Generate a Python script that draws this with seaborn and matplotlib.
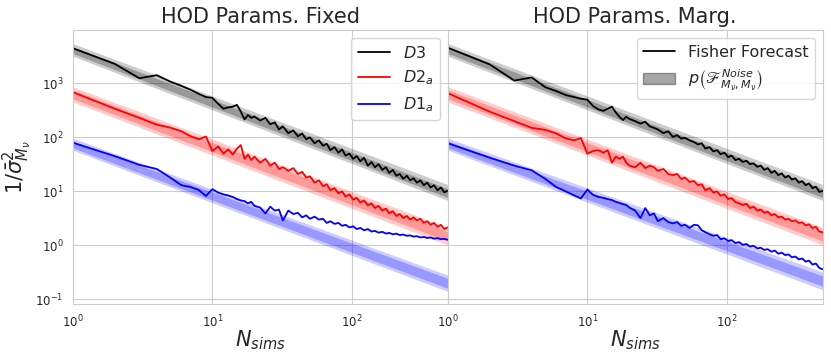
import matplotlib
matplotlib.use("Agg")
import matplotlib.pyplot as plt
import matplotlib.patches as mpatches
import seaborn as sns

sns.set_style("whitegrid")

# ---------------------------------------------------------------------
# data (N_sims grid shared by every curve)
# ---------------------------------------------------------------------
n_sims = [1, 2, 3, 4, 5, 6, 7, 8, 9, 10, 11, 12, 13, 14, 15, 16, 17, 18, 19, 20,
          22, 24, 26, 28, 30, 32, 35, 38, 41, 44, 47, 50, 54, 58, 62, 66, 70, 75,
          80, 85, 90, 96, 102, 108, 115, 122, 130, 138, 146, 155, 165, 175, 185,
          196, 208, 220, 233, 247, 261, 276, 292, 309, 327, 346, 366, 387, 410,
          434, 459, 485]

# HOD params fixed
d3_fixed = [4500, 2300, 1250, 1420, 1080, 900, 760, 640, 560, 540, 420, 340, 360,
            370, 400, 300, 215, 260, 230, 245, 205, 230, 175, 190, 140, 160, 120,
            135, 105, 118, 92, 100, 78, 88, 70, 76, 58, 66, 52, 60, 46, 50, 40, 45,
            36, 42, 30, 35, 28, 32, 25, 28, 22, 25, 19.5, 21, 17, 19.5, 16, 17.5,
            14.5, 16, 13, 14.5, 11.8, 13, 10.5, 11.8, 9.6, 10.3]
d2a_fixed = [690, 340, 230, 172, 152, 130, 105, 92, 104, 56, 68, 50, 60, 48, 62,
             72, 40, 48, 38, 44, 34, 40, 30, 34, 26, 28, 24, 27, 21, 23, 18, 19,
             14.5, 16, 12.5, 13.5, 10.5, 11.5, 9.2, 10, 8.0, 8.8, 7.0, 7.6, 6.2,
             6.8, 5.5, 6.0, 4.9, 5.4, 4.4, 4.8, 3.9, 4.3, 3.5, 3.8, 3.2, 3.5, 3.0,
             3.3, 2.9, 3.1, 2.6, 2.8, 2.4, 2.6, 2.2, 2.4, 2.0, 2.15]
d1a_fixed = [80, 45, 31, 26, 18, 13, 12, 10.6, 8.2, 11, 9.5, 8.8, 8.4, 7.9, 7.2,
             6.8, 6.6, 6.0, 6.4, 5.4, 5.0, 3.9, 5.2, 4.4, 4.6, 2.9, 4.4, 3.8, 4.0,
             3.3, 3.6, 3.1, 3.4, 3.0, 3.1, 2.6, 2.8, 2.5, 2.6, 2.3, 2.4, 2.15, 2.25,
             2.0, 2.1, 1.9, 2.0, 1.8, 1.85, 1.72, 1.78, 1.65, 1.7, 1.6, 1.65, 1.55,
             1.58, 1.5, 1.53, 1.45, 1.48, 1.4, 1.43, 1.37, 1.4, 1.33, 1.36, 1.3,
             1.32, 1.27]

# HOD params marginalised
d3_marg = [4600, 2250, 1130, 1290, 850, 720, 610, 560, 520, 500, 380, 330, 310,
           340, 370, 290, 240, 210, 240, 220, 200, 180, 195, 160, 150, 140, 120,
           130, 102, 110, 95, 98, 88, 82, 74, 78, 62, 66, 55, 58, 49, 52, 43, 46,
           38, 40, 35, 37, 32, 33, 28.5, 30, 25, 27, 22, 24, 20, 21.5, 18, 19.5,
           16.5, 17.5, 14.5, 15.5, 13, 14, 11.5, 12.2, 9.8, 10.2]
d2a_marg = [660, 300, 200, 150, 138, 118, 96, 88, 97, 50, 56, 58, 52, 58, 34, 44,
            40, 44, 34, 30, 28, 34, 27, 30, 28, 24, 26, 21, 20, 21, 17, 18, 15,
            15.5, 13, 13.5, 10.5, 11.5, 9.5, 10, 8.3, 8.8, 7.2, 7.5, 6.3, 6.0, 5.6,
            5.9, 4.9, 5.2, 4.4, 4.6, 4.0, 4.2, 3.6, 3.8, 3.3, 3.4, 3.0, 3.1, 2.8,
            2.9, 2.6, 2.65, 2.35, 2.45, 2.1, 2.2, 1.8, 1.75]
d1a_marg = [78, 42, 30, 24.5, 17, 12, 10, 8.5, 7.4, 10.8, 8.6, 7.9, 7.6, 7.2, 6.9,
            6.4, 6.1, 5.8, 5.6, 5.0, 4.4, 3.2, 4.9, 3.6, 3.9, 2.8, 3.2, 2.7, 2.55,
            2.7, 2.3, 2.4, 2.1, 2.4, 2.35, 1.9, 1.75, 1.6, 1.5, 1.55, 1.3, 1.35,
            1.2, 1.25, 1.1, 1.15, 1.02, 1.06, 0.95, 0.98, 0.88, 0.9, 0.82, 0.85,
            0.76, 0.8, 0.7, 0.73, 0.66, 0.68, 0.6, 0.62, 0.55, 0.57, 0.5, 0.52,
            0.44, 0.46, 0.38, 0.36]

# noise bands p(F^Noise): values at the two ends of the N range
band_n = [1, 485]
d3_outer = ([3200, 6.8], [5500, 13.4])
d3_inner = ([3600, 7.7], [4800, 11.2])
d2a_outer = ([455, 1.02], [870, 2.15])
d2a_inner = ([520, 1.2], [760, 1.8])
d1a_outer_fixed = ([58, 0.14], [97, 0.28])
d1a_inner_fixed = ([64, 0.16], [86, 0.245])
d1a_outer_marg = ([58, 0.15], [97, 0.32])
d1a_inner_marg = ([64, 0.175], [86, 0.27])

labels = ["$D3$", "$D2_a$", "$D1_a$"]
colors = ["black", "red", "blue"]

fig, axes = plt.subplots(1, 2, figsize=(8.31, 3.55), dpi=100, sharey=True)
plt.subplots_adjust(left=0.0875, right=0.99, top=0.915, bottom=0.143, wspace=0)

panels = [
    ("HOD Params. Fixed", [d3_fixed, d2a_fixed, d1a_fixed],
     [(d3_outer, d3_inner), (d2a_outer, d2a_inner), (d1a_outer_fixed, d1a_inner_fixed)]),
    ("HOD Params. Marg.", [d3_marg, d2a_marg, d1a_marg],
     [(d3_outer, d3_inner), (d2a_outer, d2a_inner), (d1a_outer_marg, d1a_inner_marg)]),
]

for ax, (title, series, bands) in zip(axes, panels):
    for vals, (outer, inner), col, lab in zip(series, bands, colors, labels):
        ax.fill_between(band_n, outer[0], outer[1], color=col, alpha=0.2, lw=0)
        ax.fill_between(band_n, inner[0], inner[1], color=col, alpha=0.25, lw=0)
        sns.lineplot(x=n_sims, y=vals, color=col, lw=1.3, ax=ax, label=lab,
                     estimator=None, sort=False)
    ax.set_xscale("log")
    ax.set_yscale("log")
    ax.set_xlim(1, 485)
    ax.set_ylim(0.081, 9700)
    ax.set_title(title, fontsize=15, pad=5)
    ax.set_xlabel("$N_{sims}$", fontsize=15, labelpad=-1)
    ax.tick_params(labelsize=8.5, pad=3)

axes[0].set_ylabel(r"$1/\bar{\sigma}^2_{M_\nu}$", fontsize=15, labelpad=1)
axes[0].legend(loc="upper right", fontsize=11.5)

fisher_handle = plt.Line2D([], [], color="black", lw=1.3)
noise_handle = mpatches.Patch(facecolor="black", alpha=0.35, edgecolor="black")
axes[1].legend([fisher_handle, noise_handle],
               ["Fisher Forecast", r"$p\left(\mathscr{F}^{Noise}_{M_\nu,M_\nu}\right)$"],
               loc="upper right", fontsize=11.5)

plt.savefig("out.png", dpi=100)
